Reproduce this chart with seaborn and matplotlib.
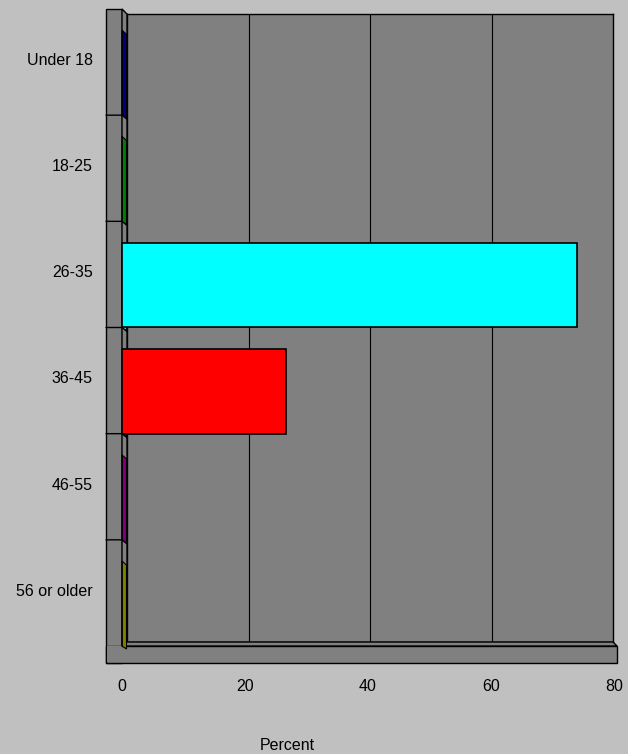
import matplotlib
matplotlib.use("Agg")
import matplotlib.pyplot as plt
import seaborn as sns
from matplotlib.patches import Polygon, Rectangle

# Data
age_groups = ["Under 18", "18-25", "26-35", "36-45", "46-55", "56 or older"]
percent = [0, 0, 74.0, 26.6, 0, 0]
bar_colors = ["#000080", "#008000", "#00FFFF", "#FF0000", "#800080", "#808000"]
x_ticks = [0, 20, 40, 60, 80]

W, H = 628, 754
GRAY = "#808080"
FS = 11.5

sns.set_theme(style="white")
plt.rcParams["font.family"] = ["Liberation Sans", "DejaVu Sans"]


def fx(px):
    return px / W


def fy(py):
    return 1 - py / H


def box(left, top, right, bottom):
    return [fx(left), fy(bottom), (right - left) / W, (bottom - top) / H]


fig = plt.figure(figsize=(W / 100, H / 100), dpi=100)
fig.patch.set_facecolor("#C0C0C0")

# back wall of the 3D plot
ax_back = fig.add_axes(box(127, 14, 613, 642), zorder=0)
ax_back.set_facecolor(GRAY)
ax_back.set_xlim(0, 80)
ax_back.set_ylim(0, 1)
for v in x_ticks[1:-1]:
    ax_back.axvline(v, color="black", lw=0.8)
ax_back.set_xticks([])
ax_back.set_yticks([])
for s in ax_back.spines.values():
    s.set_color("black")
    s.set_linewidth(1)

# front plane with the bars
ax = fig.add_axes(box(122, 9, 614, 646), zorder=1)
ax.patch.set_alpha(0)
sns.barplot(x=percent, y=age_groups, hue=age_groups, palette=dict(zip(age_groups, bar_colors)),
            orient="h", width=0.8, saturation=1, edgecolor="black", linewidth=1.2,
            legend=False, ax=ax, zorder=3)
ax.set_xlim(0, 80)
ax.set_ylim(5.4, -0.6)
ax.set_xticks(x_ticks)
ax.set_xticklabels([str(t) for t in x_ticks])
ax.set_yticks([i - 0.13 for i in range(len(age_groups))])
ax.set_yticklabels(age_groups)
ax.tick_params(axis="x", length=0, pad=24, labelsize=FS, colors="black")
ax.tick_params(axis="y", length=0, pad=21, labelsize=FS, colors="black")
ax.set_xlabel("")
ax.set_ylabel("")
for s in ax.spines.values():
    s.set_visible(False)

tf = fig.transFigure


def add_poly(pts, fc, z, lw=1):
    p = Polygon([(fx(a), fy(b)) for a, b in pts], closed=True, facecolor=fc,
                edgecolor="black", lw=lw, transform=tf, clip_on=False, zorder=z)
    ax.add_patch(p)


# left wall slab and floor slab
add_poly([(106, 9), (122, 9), (122, 663), (106, 663)], GRAY, 0.5)
add_poly([(122, 9), (127, 14), (127, 642), (122, 646)], GRAY, 0.6)
add_poly([(106, 646), (617, 646), (617, 663), (106, 663)], GRAY, 0.5)
add_poly([(122, 646), (127, 642), (613, 642), (617, 646)], GRAY, 0.6)
# hide the seam between wall and floor front faces
ax.add_patch(Rectangle((fx(106.8), fy(662.3)), (122 - 106.8) / W, (662.3 - 646) / H,
                       facecolor=GRAY, edgecolor="none", transform=tf, clip_on=False, zorder=0.55))

# row separators on the wall
to_px = ax.transData
for k in range(1, len(age_groups)):
    _, ydisp = to_px.transform((0, k - 0.6))
    py = H - ydisp
    ax.plot([fx(106), fx(122), fx(127)], [fy(py), fy(py), fy(py + 4)], color="black",
            lw=1, transform=tf, clip_on=False, zorder=0.7)

# side faces of the bars at zero
for p, c in zip(ax.patches[:len(age_groups)], bar_colors):
    y0, y1 = p.get_y(), p.get_y() + p.get_height()
    x0d, yt = to_px.transform((0, y0))
    _, yb = to_px.transform((0, y1))
    top, bot = sorted([H - yt, H - yb])
    add_poly([(x0d, top), (x0d + 4.5, top + 4), (x0d + 4.5, bot + 3), (x0d, bot)], c, 1, lw=0.8)

fig.text(fx(287), fy(745), "Percent", ha="center", va="center", fontsize=FS, color="black")

fig.savefig("out.png", dpi=100, facecolor=fig.get_facecolor())
